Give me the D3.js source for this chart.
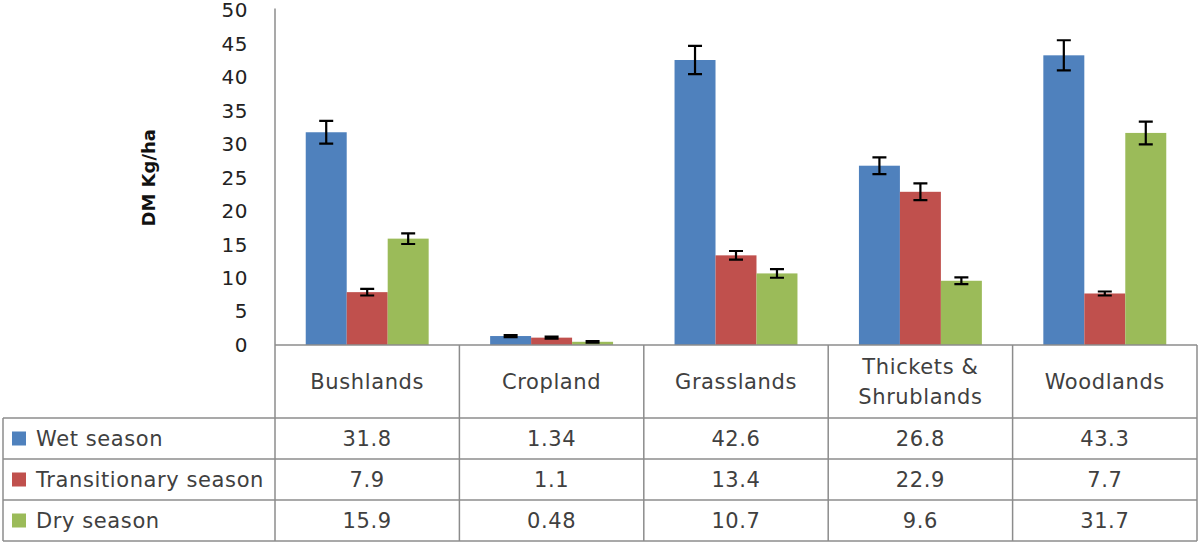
<!DOCTYPE html>
<html>
<head>
<meta charset="utf-8">
<script src="https://cdn.jsdelivr.net/npm/d3@7/dist/d3.min.js"></script>
<style>
  html, body { margin: 0; padding: 0; background: #fff; }
  svg { display: block; }
</style>
</head>
<body>
<svg id="chart" width="1200" height="546"></svg>
<script>
const categories = ["Bushlands", "Cropland", "Grasslands", "Thickets & Shrublands", "Woodlands"];
const categoryLines = [["Bushlands"], ["Cropland"], ["Grasslands"], ["Thickets &", "Shrublands"], ["Woodlands"]];
const seriesNames = ["Wet season", "Transitionary season", "Dry season"];
const seriesColors = ["#4F81BD", "#C0504D", "#9BBB59"];
const wetValues = [31.8, 1.34, 42.6, 26.8, 43.3];
const transValues = [7.9, 1.1, 13.4, 22.9, 7.7];
const dryValues = [15.9, 0.48, 10.7, 9.6, 31.7];
const wetErrors = [1.7, 0.15, 2.1, 1.25, 2.25];
const transErrors = [0.5, 0.15, 0.65, 1.25, 0.3];
const dryErrors = [0.8, 0.12, 0.65, 0.5, 1.7];
const tableLabels = [["31.8", "1.34", "42.6", "26.8", "43.3"], ["7.9", "1.1", "13.4", "22.9", "7.7"], ["15.9", "0.48", "10.7", "9.6", "31.7"]];
const yTicks = [0, 5, 10, 15, 20, 25, 30, 35, 40, 45, 50];
const yLabel = "DM Kg/ha";

const seriesValues = [wetValues, transValues, dryValues];
const seriesErrors = [wetErrors, transErrors, dryErrors];

const svg = d3.select("#chart");
const font = "'DejaVu Sans', Verdana, sans-serif";
const lineColor = "#8c8c8c";

const plotLeft = 275, plotRight = 1197;
const tableLeft = 3;
const rowTops = [345, 418, 459, 500, 541];

const x0 = d3.scaleBand().domain(categories).range([plotLeft, plotRight]).paddingInner(0).paddingOuter(0);
const x1 = d3.scaleBand().domain(seriesNames).range([0, x0.bandwidth()]).paddingInner(0).paddingOuter(0.75);
const y = d3.scaleLinear().domain([0, 50]).range([345, 10.5]);

// Y axis
const yAxis = d3.axisLeft(y).tickValues(yTicks).tickSize(0).tickPadding(27);
const gy = svg.append("g").attr("transform", `translate(${plotLeft},0)`).call(yAxis);
gy.select(".domain").remove();
gy.selectAll("text").attr("font-family", font).attr("font-size", 20).attr("letter-spacing", "0.5px").attr("fill", "#222");

// Y label
svg.append("text")
  .attr("transform", `translate(155,${(y(0) + y(50)) / 2}) rotate(-90)`)
  .attr("text-anchor", "middle")
  .attr("font-family", font).attr("font-size", 18).attr("font-weight", "bold").attr("fill", "#111")
  .text(yLabel);

// Bars
const groups = svg.append("g").selectAll("g").data(categories).join("g")
  .attr("transform", d => `translate(${x0(d)},0)`);

seriesNames.forEach((s, si) => {
  groups.append("rect")
    .attr("x", x1(s))
    .attr("width", x1.bandwidth())
    .attr("y", (d, ci) => y(seriesValues[si][ci]))
    .attr("height", (d, ci) => y(0) - y(seriesValues[si][ci]))
    .attr("fill", seriesColors[si]);
});

// Error bars
seriesNames.forEach((s, si) => {
  const cx = x1(s) + x1.bandwidth() / 2;
  groups.append("path")
    .attr("d", (d, ci) => {
      const v = seriesValues[si][ci], e = seriesErrors[si][ci];
      const t = y(v + e), b = y(v - e), w = 7;
      return `M${cx},${t}V${b}M${cx - w},${t}H${cx + w}M${cx - w},${b}H${cx + w}`;
    })
    .attr("stroke", "#000").attr("stroke-width", 2.2).attr("fill", "none");
});

// Table grid
const grid = svg.append("g").attr("stroke", lineColor).attr("stroke-width", 1.5).attr("fill", "none");
grid.append("line").attr("x1", plotLeft).attr("x2", plotLeft).attr("y1", y(50) - 2).attr("y2", rowTops[4]);
grid.append("line").attr("x1", plotLeft).attr("x2", plotRight).attr("y1", rowTops[0]).attr("y2", rowTops[0]);
rowTops.slice(1).forEach(ry => {
  grid.append("line").attr("x1", tableLeft).attr("x2", plotRight).attr("y1", ry).attr("y2", ry);
});
grid.append("line").attr("x1", tableLeft).attr("x2", tableLeft).attr("y1", rowTops[1]).attr("y2", rowTops[4]);
categories.forEach(c => {
  const xr = x0(c) + x0.bandwidth();
  grid.append("line").attr("x1", xr).attr("x2", xr).attr("y1", rowTops[0]).attr("y2", rowTops[4]);
});

// Header texts
const textColor = "#404040";
const tFont = 21, tSpacing = "0.6px";
categories.forEach((c, ci) => {
  const lines = categoryLines[ci];
  const cx = x0(c) + x0.bandwidth() / 2;
  const cy = (rowTops[0] + rowTops[1]) / 2;
  const lh = 30;
  lines.forEach((ln, li) => {
    svg.append("text")
      .attr("x", cx)
      .attr("y", cy + (li - (lines.length - 1) / 2) * lh)
      .attr("dy", "0.36em")
      .attr("text-anchor", "middle")
      .attr("font-family", font).attr("font-size", tFont).attr("letter-spacing", tSpacing).attr("fill", textColor)
      .text(ln);
  });
});

// Rows: legend + values
seriesNames.forEach((s, si) => {
  const top = rowTops[si + 1], bot = rowTops[si + 2];
  const cy = (top + bot) / 2;
  svg.append("rect").attr("x", 12).attr("y", cy - 7).attr("width", 14).attr("height", 14).attr("fill", seriesColors[si]);
  svg.append("text")
    .attr("x", 36).attr("y", cy).attr("dy", "0.36em")
    .attr("font-family", font).attr("font-size", tFont).attr("letter-spacing", tSpacing).attr("fill", textColor)
    .text(s);
  categories.forEach((c, ci) => {
    svg.append("text")
      .attr("x", x0(c) + x0.bandwidth() / 2).attr("y", cy).attr("dy", "0.36em")
      .attr("text-anchor", "middle")
      .attr("font-family", font).attr("font-size", tFont).attr("letter-spacing", tSpacing).attr("fill", textColor)
      .text(tableLabels[si][ci]);
  });
});
</script>
</body>
</html>
